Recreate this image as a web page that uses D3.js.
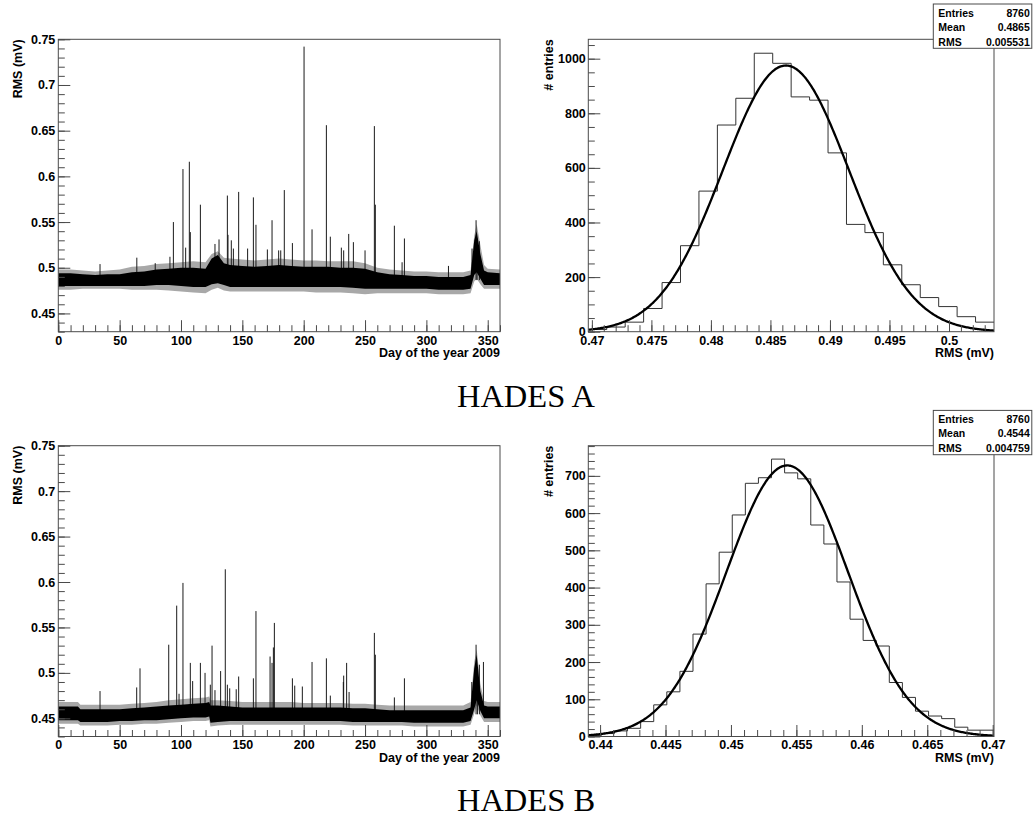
<!DOCTYPE html>
<html><head><meta charset="utf-8">
<script src="https://cdn.jsdelivr.net/npm/d3@7"></script>
<style>
body{margin:0;background:#fff}
svg text{font-family:"Liberation Sans",Arial,Helvetica,sans-serif;font-weight:bold;fill:#000}
</style>
</head><body>
<svg id="c" width="1034" height="817"></svg>
<script>
// ---------------- data ----------------
const captions = ["HADES A", "HADES B"];
const dayTicks = [0, 50, 100, 150, 200, 250, 300, 350];
const dayTickLabels = ["0", "50", "100", "150", "200", "250", "300", "350"];
const rmsTicks = [0.45, 0.5, 0.55, 0.6, 0.65, 0.7, 0.75];
const rmsTickLabels = ["0.45", "0.5", "0.55", "0.6", "0.65", "0.7", "0.75"];
const rmsDomain = [0.43, 0.75];
const dayDomain = [0, 360];

// noise band of the hourly RMS: [day, outerLow, coreLow, coreHigh, outerHigh]
const bandA = [
  [0,0.476,0.480,0.494,0.498],[10,0.476,0.480,0.494,0.498],[20,0.477,0.480,0.493,0.497],
  [30,0.477,0.480,0.492,0.496],[40,0.477,0.480,0.493,0.497],[50,0.477,0.480,0.493,0.498],
  [60,0.476,0.480,0.495,0.501],[70,0.476,0.480,0.496,0.502],[80,0.476,0.481,0.498,0.504],
  [90,0.475,0.481,0.499,0.505],[100,0.474,0.480,0.500,0.506],[110,0.473,0.479,0.500,0.507],
  [120,0.472,0.479,0.499,0.506],[125,0.476,0.482,0.510,0.515],[130,0.478,0.483,0.514,0.518],
  [135,0.475,0.481,0.505,0.511],[140,0.474,0.479,0.503,0.510],[150,0.474,0.479,0.502,0.509],
  [160,0.474,0.479,0.501,0.508],[170,0.474,0.479,0.502,0.509],[180,0.474,0.479,0.503,0.510],
  [190,0.474,0.479,0.502,0.509],[200,0.474,0.479,0.501,0.508],[210,0.473,0.479,0.501,0.508],
  [220,0.473,0.479,0.501,0.507],[230,0.473,0.479,0.500,0.507],[240,0.472,0.478,0.500,0.507],
  [250,0.471,0.477,0.499,0.505],[260,0.472,0.477,0.495,0.500],[270,0.472,0.477,0.493,0.498],
  [280,0.472,0.477,0.492,0.497],[290,0.472,0.477,0.491,0.496],[300,0.472,0.477,0.491,0.496],
  [310,0.471,0.476,0.490,0.495],[320,0.471,0.476,0.490,0.495],[330,0.471,0.476,0.490,0.495],
  [336,0.472,0.477,0.492,0.497],[339,0.485,0.492,0.530,0.535],[341,0.488,0.495,0.540,0.548],
  [344,0.482,0.488,0.515,0.525],[347,0.477,0.481,0.497,0.503],[350,0.477,0.481,0.495,0.499],
  [360,0.477,0.481,0.494,0.498]
];
const bandB = [
  [0,0.444,0.448,0.463,0.468],[10,0.444,0.448,0.463,0.468],[16,0.444,0.448,0.463,0.468],
  [18,0.442,0.446,0.460,0.465],[30,0.442,0.446,0.460,0.465],[40,0.442,0.446,0.460,0.465],
  [50,0.443,0.447,0.460,0.465],[60,0.443,0.447,0.461,0.466],[70,0.444,0.448,0.462,0.467],
  [80,0.444,0.448,0.463,0.468],[90,0.445,0.449,0.464,0.470],[100,0.446,0.450,0.465,0.471],
  [110,0.447,0.451,0.466,0.472],[120,0.447,0.451,0.467,0.473],[123,0.448,0.452,0.468,0.474],
  [124,0.441,0.445,0.464,0.470],[130,0.442,0.446,0.464,0.470],[140,0.443,0.447,0.463,0.469],
  [150,0.443,0.447,0.462,0.468],[160,0.443,0.447,0.462,0.468],[170,0.443,0.447,0.462,0.468],
  [180,0.443,0.447,0.462,0.468],[190,0.443,0.447,0.462,0.468],[200,0.443,0.447,0.462,0.467],
  [210,0.443,0.447,0.462,0.467],[220,0.443,0.447,0.462,0.467],[230,0.443,0.447,0.462,0.467],
  [240,0.442,0.446,0.461,0.466],[250,0.442,0.446,0.461,0.466],[260,0.442,0.446,0.460,0.465],
  [270,0.442,0.446,0.459,0.464],[280,0.442,0.446,0.459,0.464],[290,0.441,0.445,0.459,0.464],
  [300,0.441,0.445,0.459,0.464],[310,0.441,0.445,0.459,0.464],[320,0.441,0.445,0.459,0.464],
  [330,0.441,0.445,0.459,0.464],[336,0.443,0.447,0.462,0.468],[339,0.455,0.460,0.505,0.512],
  [341,0.464,0.470,0.520,0.526],[344,0.453,0.458,0.480,0.488],[347,0.446,0.450,0.464,0.469],
  [350,0.446,0.450,0.463,0.468],[360,0.446,0.450,0.463,0.468]
];
// isolated spikes: [day, RMS (mV)]
const spikesA = [
  [34,0.504],[64,0.511],[79,0.505],[91,0.512],[93.8,0.550],[101.6,0.608],[103.8,0.522],
  [106.8,0.616],[107.6,0.539],[115.8,0.569],[127.7,0.526],[131,0.531],[137.8,0.579],
  [138.3,0.536],[141,0.530],[142.7,0.521],[147,0.583],[154.3,0.521],[159,0.577],[161.1,0.547],
  [170.4,0.520],[174.2,0.552],[179.6,0.519],[181.3,0.519],[184.2,0.585],[190.8,0.527],
  [200.3,0.742],[206.8,0.542],[218.5,0.656],[221.7,0.534],[230.7,0.522],[232.6,0.519],
  [236.7,0.537],[240.5,0.528],[250,0.519],[257.6,0.655],[258.4,0.569],[273.9,0.546],
  [280.2,0.506],[282.1,0.532],[318,0.502],[337.2,0.521],[340.5,0.552],[341.3,0.532],[343.2,0.529]
];
const spikesB = [
  [34,0.480],[63.9,0.484],[66.6,0.505],[90,0.531],[96.5,0.574],[98.4,0.477],[101.6,0.599],
  [107.6,0.511],[109.5,0.491],[115.8,0.511],[119.6,0.500],[123.9,0.487],[125.3,0.530],
  [127.7,0.481],[132.3,0.502],[136.1,0.614],[137.8,0.487],[139.7,0.483],[145,0.482],
  [147,0.496],[159,0.494],[161.1,0.568],[172.6,0.518],[174.2,0.511],[175.3,0.528],[176.1,0.555],
  [190.8,0.494],[192.7,0.486],[198.9,0.485],[206.8,0.512],[218.5,0.516],[221.7,0.475],
  [232.3,0.490],[232.6,0.497],[235,0.511],[237,0.479],[257.6,0.544],[258.4,0.520],
  [273.9,0.473],[282.1,0.494],[337,0.490],[340.5,0.531],[341.6,0.500],[343.2,0.509],[346.5,0.512]
];

// histograms
const histRangeA = [0.4697, 0.50378];
const histCountsA = [8,17,35,85,180,315,515,757,855,1020,983,860,848,655,393,363,245,172,125,92,55,35];
const histRangeB = [0.4391, 0.4701];
const histCountsB = [3,8,15,22,40,85,120,175,275,410,495,595,680,695,745,708,692,568,517,415,315,258,243,145,105,68,55,48,25,17,17];
const histYMaxA = 1071, histYMaxB = 781;
const histXTicksA = [0.47, 0.475, 0.48, 0.485, 0.49, 0.495, 0.5];
const histXLabelsA = ["0.47", "0.475", "0.48", "0.485", "0.49", "0.495", "0.5"];
const histXTicksB = [0.44, 0.445, 0.45, 0.455, 0.46, 0.465, 0.47];
const histXLabelsB = ["0.44", "0.445", "0.45", "0.455", "0.46", "0.465", "0.47"];
const histYTicksA = [0, 200, 400, 600, 800, 1000];
const histYTicksB = [0, 100, 200, 300, 400, 500, 600, 700];
// gaussian fit parameters: [constant, mean, sigma]
const fitA = [975, 0.4863, 0.0053];
const fitB = [728, 0.4543, 0.00465];
// statistics boxes
const statLabels = ["Entries", "Mean", "RMS"];
const statsA = ["8760", "0.4865", "0.005531"];
const statsB = ["8760", "0.4544", "0.004759"];
const meanA = 0.4865, meanB = 0.4544;

// ---------------- drawing ----------------
const svg = d3.select("#c");
const LEFT = [58.3, 500], RIGHT = [588.3, 994];
const ROWS = [[39.3, 331.7], [445.7, 736.5]];
const AX = "#4a4a4a";

function minorRange(a, b, step) {
  const out = [];
  const n = Math.round((b - a) / step);
  for (let i = 0; i <= n; i++) out.push(+(a + i * step).toFixed(6));
  return out;
}

function styleAxis(g, size) {
  g.select(".domain").remove();
  g.selectAll("line").attr("stroke", AX).attr("stroke-width", 1);
  g.selectAll("text").attr("font-size", size).attr("fill", "#000");
  g.attr("font-family", null).attr("font-size", null);
}

function axes(g, x, y, xMaj, xLab, xMinStep, yMaj, yLab, yMinStep, yPad) {
  const [y0] = y.range();
  const [x0] = x.range();
  const xd = x.domain(), yd = y.domain();
  const xMinor = minorRange(Math.ceil(xd[0] / xMinStep - 1e-6) * xMinStep, xd[1], xMinStep).filter(v => v >= xd[0] - 1e-9 && v <= xd[1] + 1e-9);
  const yMinor = minorRange(Math.ceil(yd[0] / yMinStep - 1e-6) * yMinStep, yd[1], yMinStep).filter(v => v >= yd[0] - 1e-9 && v <= yd[1] + 1e-9);
  g.append("g").attr("transform", `translate(0,${y0})`)
    .call(d3.axisBottom(x).tickValues(xMinor).tickFormat("").tickSize(-6.5)).call(s => styleAxis(s, 12.5));
  g.append("g").attr("transform", `translate(0,${y0})`)
    .call(d3.axisBottom(x).tickValues(xMaj).tickFormat((d, i) => xLab[i]).tickSize(-11.5).tickPadding(4))
    .call(s => styleAxis(s, 12.5));
  g.append("g").attr("transform", `translate(${x0},0)`)
    .call(d3.axisLeft(y).tickValues(yMinor).tickFormat("").tickSize(-6.5)).call(s => styleAxis(s, 12.5));
  g.append("g").attr("transform", `translate(${x0},0)`)
    .call(d3.axisLeft(y).tickValues(yMaj).tickFormat((d, i) => yLab[i]).tickSize(-12).tickPadding(yPad))
    .call(s => styleAxis(s, 12.5));
}

function frame(g, x, y) {
  const [xa, xb] = x.range(), [ya, yb] = y.range();
  g.append("rect").attr("x", xa).attr("y", yb).attr("width", xb - xa).attr("height", ya - yb)
    .attr("fill", "none").attr("stroke", AX).attr("stroke-width", 1);
}

function yTitle(g, text, xpos, ytop) {
  g.append("text").attr("transform", `translate(${xpos},${ytop}) rotate(-90)`)
    .attr("text-anchor", "end").attr("font-size", 12.5).text(text);
}

function timePanel(row, band, spikes, mean, idx) {
  const x = d3.scaleLinear().domain(dayDomain).range(LEFT);
  const y = d3.scaleLinear().domain(rmsDomain).range([ROWS[row][1], ROWS[row][0]]);
  const g = svg.append("g");
  const cid = "clipT" + idx;
  svg.append("clipPath").attr("id", cid).append("rect")
    .attr("x", LEFT[0]).attr("y", ROWS[row][0]).attr("width", LEFT[1] - LEFT[0]).attr("height", ROWS[row][1] - ROWS[row][0]);
  const pg = g.append("g").attr("clip-path", `url(#${cid})`);
  pg.append("path").datum(band)
    .attr("d", d3.area().x(d => x(d[0])).y0(d => y(d[1])).y1(d => y(d[4])))
    .attr("fill", "#a8a8a8");
  pg.selectAll("line.spike").data(spikes).join("line").attr("class", "spike")
    .attr("x1", d => x(d[0])).attr("x2", d => x(d[0]))
    .attr("y1", y(mean)).attr("y2", d => y(d[1]))
    .attr("stroke", "#1a1a1a").attr("stroke-width", 1);
  pg.append("path").datum(band)
    .attr("d", d3.area().x(d => x(d[0])).y0(d => y(d[2])).y1(d => y(d[3])))
    .attr("fill", "#000");
  frame(g, x, y);
  axes(g, x, y, dayTicks, dayTickLabels, 10, rmsTicks, rmsTickLabels, 0.01, 3);
  g.append("text").attr("x", LEFT[1]).attr("y", ROWS[row][1] + 25.5).attr("text-anchor", "end")
    .attr("font-size", 12.5).text("Day of the year 2009");
  yTitle(g, "RMS (mV)", 21.5, ROWS[row][0]);
}

function histPanel(row, range, counts, ymax, xt, xl, yt, yMinStep, fit, stats, idx) {
  const x = d3.scaleLinear().domain(range).range(RIGHT);
  const y = d3.scaleLinear().domain([0, ymax]).range([ROWS[row][1], ROWS[row][0]]);
  const g = svg.append("g");
  const cid = "clipH" + idx;
  svg.append("clipPath").attr("id", cid).append("rect")
    .attr("x", RIGHT[0]).attr("y", ROWS[row][0]).attr("width", RIGHT[1] - RIGHT[0]).attr("height", ROWS[row][1] - ROWS[row][0]);
  const pg = g.append("g").attr("clip-path", `url(#${cid})`);
  const n = counts.length, w = (range[1] - range[0]) / n;
  const pts = counts.map((c, i) => [range[0] + i * w, c]);
  pts.push([range[1], counts[n - 1]]);
  pg.append("path").datum(pts)
    .attr("d", d3.line().x(d => x(d[0])).y(d => y(d[1])).curve(d3.curveStepAfter))
    .attr("fill", "none").attr("stroke", "#333").attr("stroke-width", 1);
  const xs = d3.range(0, 401).map(i => range[0] + (range[1] - range[0]) * i / 400);
  pg.append("path").datum(xs)
    .attr("d", d3.line().x(v => x(v)).y(v => y(fit[0] * Math.exp(-0.5 * Math.pow((v - fit[1]) / fit[2], 2)))))
    .attr("fill", "none").attr("stroke", "#000").attr("stroke-width", 2.3);
  frame(g, x, y);
  axes(g, x, y, xt, xl, 0.001, yt, yt.map(String), yMinStep, 2.5);
  g.append("text").attr("x", RIGHT[1]).attr("y", ROWS[row][1] + 25.5).attr("text-anchor", "end")
    .attr("font-size", 12.5).text("RMS (mV)");
  yTitle(g, "# entries", 553, ROWS[row][0]);
  // stats box
  const bx = 933.3, by = ROWS[row][0] - 35.3, bw = 98.5, bh = 44.3;
  const sb = g.append("g");
  sb.append("rect").attr("x", bx).attr("y", by).attr("width", bw).attr("height", bh)
    .attr("fill", "#fff").attr("stroke", AX).attr("stroke-width", 1);
  statLabels.forEach((lab, i) => {
    sb.append("text").attr("x", bx + 5).attr("y", by + 12.5 + i * 14.5).attr("font-size", 10.5).text(lab);
    sb.append("text").attr("x", bx + bw - 2).attr("y", by + 12.5 + i * 14.5).attr("font-size", 10.5)
      .attr("text-anchor", "end").text(stats[i]);
  });
}

timePanel(0, bandA, spikesA, meanA, 0);
timePanel(1, bandB, spikesB, meanB, 1);
histPanel(0, histRangeA, histCountsA, histYMaxA, histXTicksA, histXLabelsA, histYTicksA, 50, fitA, statsA, 0);
histPanel(1, histRangeB, histCountsB, histYMaxB, histXTicksB, histXLabelsB, histYTicksB, 20, fitB, statsB, 1);

svg.selectAll("text.cap").data(captions).join("text").attr("class", "cap")
  .attr("x", 526).attr("y", (d, i) => [406.7, 811][i])
  .attr("text-anchor", "middle")
  .style("font-family", '"Liberation Serif","DejaVu Serif",serif').style("font-weight", "normal")
  .attr("font-size", 32.5).text(d => d);
</script>
</body></html>
